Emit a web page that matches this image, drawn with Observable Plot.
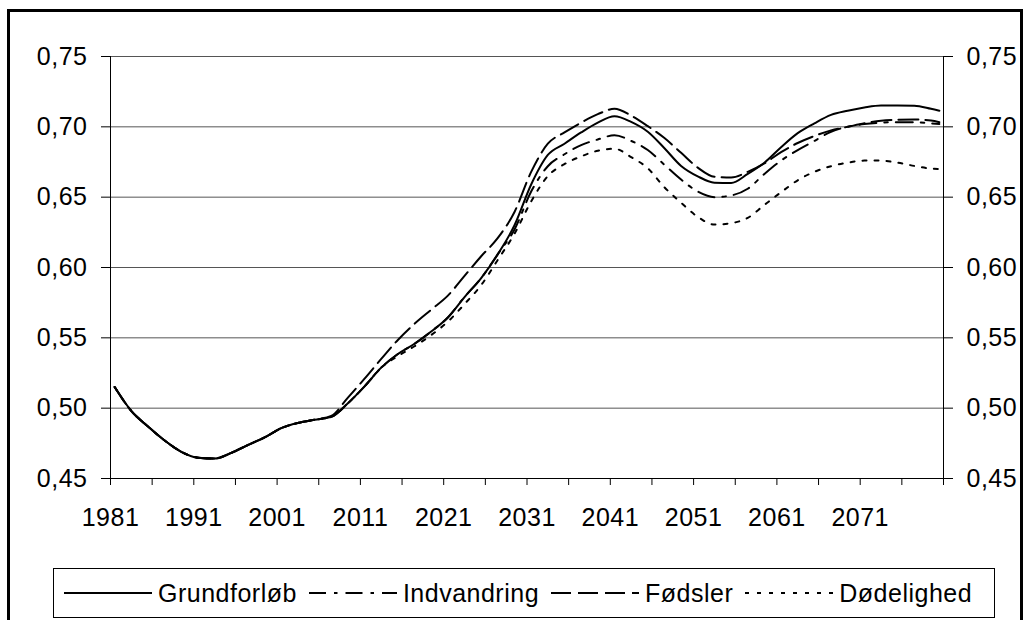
<!DOCTYPE html>
<html>
<head>
<meta charset="utf-8">
<script src="https://cdn.jsdelivr.net/npm/d3@7"></script>
<script src="https://cdn.jsdelivr.net/npm/@observablehq/plot@0.6"></script>
<style>
  html, body { margin: 0; padding: 0; background: #fff; }
  body { font-family: "Liberation Sans", Arial, sans-serif; }
  #wrap { position: relative; width: 1031px; height: 620px; overflow: hidden; background: #fff; }
  #frame { position: absolute; left: 7px; top: 9px; width: 1010px; height: 700px; border: 3px solid #000; }
  #chart { position: absolute; left: 0; top: 0; }
  #legend { position: absolute; left: 53px; top: 568px; width: 940px; height: 48px; border: 1px solid #000;
            display: flex; align-items: center; box-sizing: content-box; padding-left: 0; }
  .item { display: flex; align-items: center; font-size: 25px; letter-spacing: 0.5px; color: #000; }
  .item svg { display: block; margin-right: 6px; }
  .item + .item { margin-left: 12px; }
</style>
</head>
<body>
<div id="wrap">
  <div id="frame"></div>
  <div id="chart"></div>
  <div id="legend"></div>
</div>
<script>
// ---- Data ----
const years = [1981,1983,1985,1987,1989,1991,1993,1995,1997,1999,2001,2003,2005,2007,2009,2011,2013,2015,2017,2019,
               2021,2023,2025,2027,2029,2031,2033,2035,2037,2039,2041,2043,2045,2047,2049,2051,2053,2055,2057,2059,
               2061,2063,2065,2067,2069,2071,2073,2075,2077,2079,2080];

const grundforloeb = [0.515,0.498,0.487,0.477,0.469,0.4648,0.4642,0.4682,0.4738,0.4792,0.4858,0.4895,0.4918,0.4938,0.5035,
  0.5155,0.5288,0.5385,0.5458,0.5545,0.5645,0.579,0.5925,0.6095,0.630,0.659,0.680,0.688,0.696,0.703,0.7075,0.7035,0.6965,
  0.6848,0.6722,0.6648,0.6603,0.660,0.6665,0.6745,0.6855,0.6955,0.7025,0.7085,0.7115,0.7138,0.7152,0.7152,0.715,0.7128,0.7115];

const indvandring = [0.515,0.498,0.487,0.477,0.469,0.4648,0.4642,0.4682,0.4738,0.4792,0.4858,0.4895,0.4918,0.4938,0.5035,
  0.5155,0.5288,0.5385,0.5458,0.5545,0.5645,0.579,0.5925,0.6095,0.627,0.654,0.672,0.6805,0.687,0.691,0.694,0.690,0.6835,
  0.673,0.6625,0.654,0.650,0.6512,0.656,0.6665,0.676,0.6835,0.690,0.6965,0.700,0.702,0.703,0.7033,0.7033,0.7025,0.702];

const foedsler = [0.515,0.498,0.487,0.477,0.469,0.4648,0.4642,0.4682,0.4738,0.4792,0.4858,0.4895,0.4918,0.4945,0.5075,
  0.521,0.535,0.5485,0.560,0.570,0.580,0.594,0.608,0.621,0.6395,0.668,0.688,0.696,0.703,0.709,0.7128,0.708,0.7005,
  0.692,0.6815,0.671,0.6645,0.664,0.668,0.674,0.682,0.6885,0.6935,0.6975,0.700,0.7025,0.7043,0.705,0.7052,0.7045,0.7033];

const doedelighed = [0.515,0.498,0.487,0.477,0.469,0.4648,0.4642,0.4682,0.4738,0.4792,0.4858,0.4895,0.4918,0.4938,0.5035,
  0.5155,0.5288,0.537,0.544,0.552,0.5615,0.574,0.5875,0.6055,0.624,0.647,0.665,0.6735,0.679,0.683,0.6844,0.6785,0.6705,
  0.657,0.646,0.636,0.6305,0.6315,0.6353,0.6445,0.6535,0.662,0.668,0.672,0.6745,0.676,0.676,0.6745,0.6722,0.6703,0.670];

const seriesNames = ["Grundforløb", "Indvandring", "Fødsler", "Dødelighed"];
const seriesValues = [grundforloeb, indvandring, foedsler, doedelighed];

const yTicks = [0.45, 0.50, 0.55, 0.60, 0.65, 0.70, 0.75];
const yTickLabels = ["0,45", "0,50", "0,55", "0,60", "0,65", "0,70", "0,75"];
const xTickLabels = ["1981", "1991", "2001", "2011", "2021", "2031", "2041", "2051", "2061", "2071"];

// ---- Styles ----
const dashes = {
  "Grundforløb": null,
  "Indvandring": "17,8,3.5,8",
  "Fødsler": "20,7",
  "Dødelighed": "4,8"
};
const FONT = "'Liberation Sans', Arial, sans-serif";

// ---- Build rows ----
const rows = [];
seriesNames.forEach((name, s) => {
  years.forEach((yr, i) => rows.push({series: name, year: yr, value: seriesValues[s][i]}));
});

// category axis: each year is one category; ticks every 5 categories, labels every 10
const xStart = years[0] - 0.5, xEnd = years[years.length - 1] + 0.5;
const xTicks = d3.range(xStart, xEnd + 0.01, 5);
const xLabelAt = new Map(xTickLabels.map(l => [(+l) - 0.5, l]));
const yFmt = d => yTickLabels[yTicks.indexOf(d)] ?? "";

const drawOrder = ["Dødelighed", "Indvandring", "Fødsler", "Grundforløb"];

const chart = Plot.plot({
  width: 1031,
  height: 545,
  marginLeft: 110,
  marginRight: 88,
  marginTop: 56,
  marginBottom: 67,
  x: {domain: [xStart, xEnd]},
  y: {domain: [0.45, 0.75]},
  style: {fontFamily: FONT, fontSize: "25px", color: "#000", background: "transparent", overflow: "visible", letterSpacing: "0.5px"},
  marks: [
    Plot.gridY(yTicks, {stroke: "#555", strokeOpacity: 1, strokeWidth: 1}),
    Plot.ruleX([xStart, xEnd], {stroke: "#000", strokeWidth: 1}),
    Plot.ruleY([0.45], {stroke: "#000", strokeWidth: 1}),
    Plot.axisY(yTicks, {anchor: "left", tickSize: 9, tickPadding: 14, tickFormat: yFmt, label: null, fontSize: 25}),
    Plot.axisY(yTicks, {anchor: "right", tickSize: 9, tickPadding: 14, tickFormat: yFmt, label: null, fontSize: 25}),
    Plot.axisX(xTicks, {anchor: "bottom", tickSize: 7, tickPadding: 23, tickFormat: d => xLabelAt.get(d) ?? "", label: null, fontSize: 25}),
    ...drawOrder.map(name => Plot.line(rows.filter(r => r.series === name), {
      x: "year", y: "value", stroke: "#000", strokeWidth: 2,
      strokeDasharray: dashes[name] ?? undefined, curve: "monotone-x"
    }))
  ]
});
document.getElementById("chart").appendChild(chart);

// ---- Legend ----
const legend = d3.select("#legend");
legend.style("padding-left", "10px").style("width", "930px");
seriesNames.forEach(name => {
  const item = legend.append("div").attr("class", "item");
  const svg = item.append("svg").attr("width", 88).attr("height", 20);
  svg.append("line").attr("x1", 0).attr("x2", 88).attr("y1", 10).attr("y2", 10)
    .attr("stroke", "#000").attr("stroke-width", 2)
    .attr("stroke-dasharray", dashes[name] ?? null);
  item.append("span").text(name);
});
</script>
</body>
</html>
